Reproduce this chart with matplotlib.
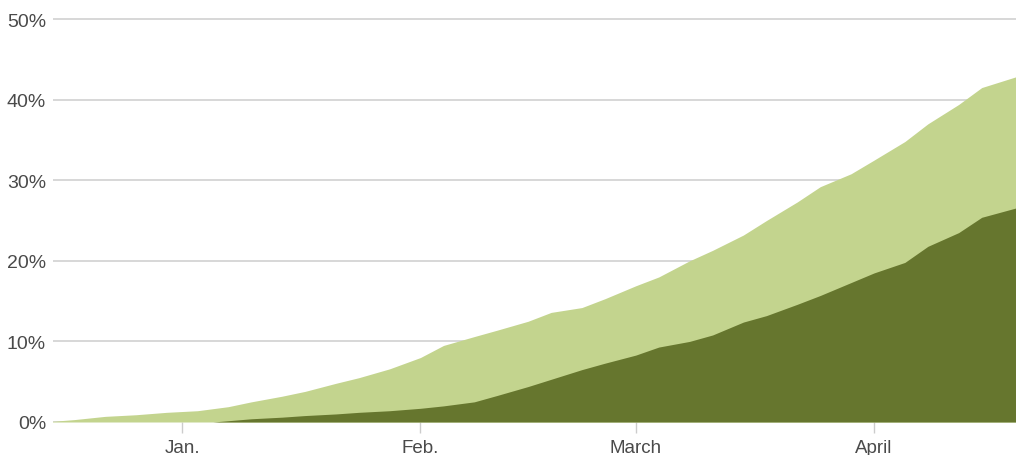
import datetime as dt
import matplotlib
matplotlib.use("Agg")
import matplotlib.pyplot as plt

# 読み取った値（%）
first_dates = ["2020-12-14", "2020-12-18", "2020-12-22", "2020-12-26", "2020-12-30",
               "2021-01-03", "2021-01-07", "2021-01-10", "2021-01-14", "2021-01-17",
               "2021-01-21", "2021-01-24", "2021-01-28", "2021-02-01", "2021-02-04",
               "2021-02-08", "2021-02-11", "2021-02-15", "2021-02-18", "2021-02-22",
               "2021-02-25", "2021-03-01", "2021-03-04", "2021-03-08", "2021-03-11",
               "2021-03-15", "2021-03-18", "2021-03-22", "2021-03-25", "2021-03-29",
               "2021-04-01", "2021-04-05", "2021-04-08", "2021-04-12", "2021-04-15",
               "2021-04-20"]
first_dose = [0.0, 0.3, 0.7, 0.9, 1.2,
              1.4, 1.9, 2.5, 3.2, 3.8,
              4.8, 5.5, 6.6, 8.0, 9.5,
              10.6, 11.4, 12.5, 13.6, 14.2,
              15.3, 16.9, 18.0, 20.0, 21.3,
              23.2, 25.0, 27.3, 29.2, 30.8,
              32.5, 34.8, 37.0, 39.4, 41.5,
              43.0]

full_dates = ["2021-01-05", "2021-01-10", "2021-01-14", "2021-01-17", "2021-01-21",
              "2021-01-24", "2021-01-28", "2021-02-01", "2021-02-04", "2021-02-08",
              "2021-02-11", "2021-02-15", "2021-02-18", "2021-02-22", "2021-02-25",
              "2021-03-01", "2021-03-04", "2021-03-08", "2021-03-11", "2021-03-15",
              "2021-03-18", "2021-03-22", "2021-03-25", "2021-03-29", "2021-04-01",
              "2021-04-05", "2021-04-08", "2021-04-12", "2021-04-15", "2021-04-20"]
fully = [0.0, 0.4, 0.6, 0.8, 1.0,
         1.2, 1.4, 1.7, 2.0, 2.5,
         3.3, 4.4, 5.3, 6.5, 7.3,
         8.3, 9.3, 10.0, 10.8, 12.4,
         13.2, 14.6, 15.7, 17.3, 18.5,
         19.8, 21.8, 23.5, 25.4, 26.7]

month_ticks = ["2021-01-01", "2021-02-01", "2021-03-01", "2021-04-01"]
month_labels = ["Jan.", "Feb.", "March", "April"]
y_ticks = [0, 10, 20, 30, 40, 50]

to_date = lambda s: dt.datetime.strptime(s, "%Y-%m-%d")
fd = [to_date(s) for s in first_dates]
ud = [to_date(s) for s in full_dates]

plt.rcParams['font.family'] = ['Liberation Sans', 'DejaVu Sans']

fig = plt.figure(figsize=(10.16, 4.56), dpi=100)
ax = fig.add_axes([53 / 1016, 33 / 456, 1 - 53 / 1016, (423 - 12) / 456])

ax.fill_between(fd, 0, first_dose, color="#c3d48e", linewidth=0, zorder=2)
ax.fill_between(ud, 0, fully, color="#66762e", linewidth=0, zorder=3)

ax.set_xlim(dt.datetime(2020, 12, 15, 5), dt.datetime(2021, 4, 19, 11))
ax.set_ylim(0, 51)

ax.set_yticks(y_ticks)
ax.set_yticklabels([f"{v}%" for v in y_ticks])
ax.set_xticks([to_date(s) for s in month_ticks])
ax.set_xticklabels(month_labels)

ax.grid(axis="y", color="#d4d4d4", linewidth=1.3, zorder=1)
ax.set_axisbelow(True)
for s in ax.spines.values():
    s.set_visible(False)

ax.tick_params(axis="y", length=0, pad=5, labelsize=14, labelcolor="#4a4a4a")
ax.tick_params(axis="x", length=8, width=1, color="#cccccc", pad=4,
               labelsize=13.5, labelcolor="#4a4a4a")

plt.savefig("out.png", dpi=100)
